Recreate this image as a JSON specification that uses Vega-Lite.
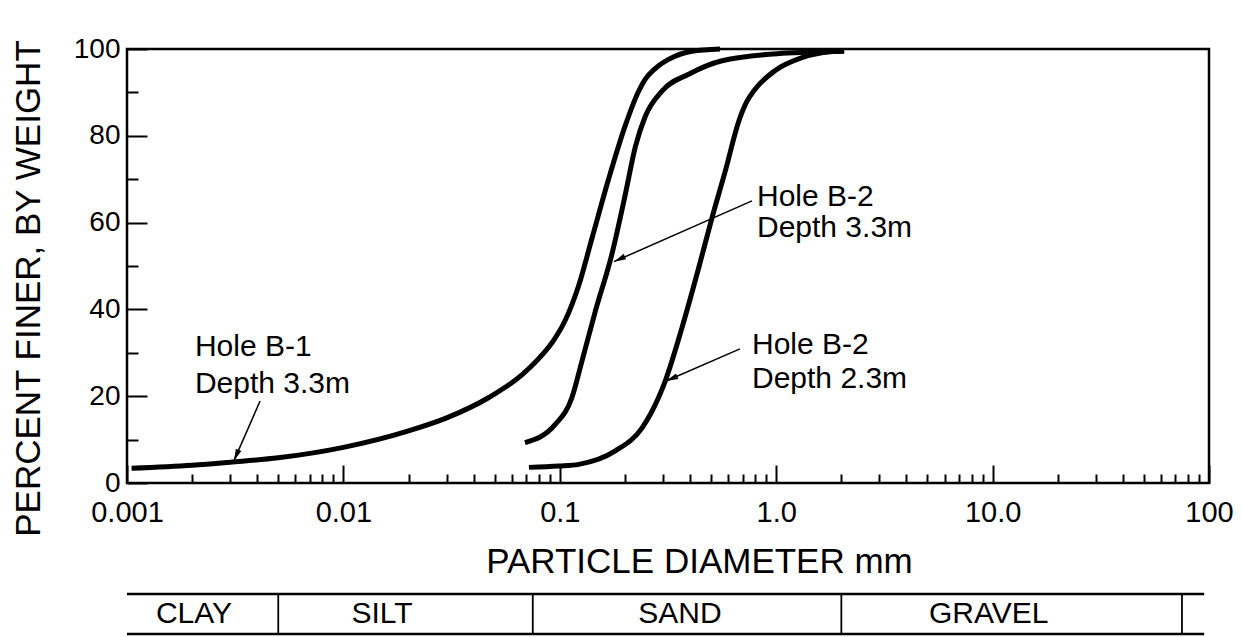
{
  "$schema": "https://vega.github.io/schema/vega-lite/v6.json",
  "padding": {"left": 9, "top": 33, "right": 5, "bottom": 0},
  "background": "white",
  "config": {
    "font": "Liberation Sans",
    "view": {"stroke": null},
    "axis": {"domain": false, "grid": false, "tickColor": "black", "tickWidth": 2, "labelColor": "black", "titleColor": "black", "labelFont": "Liberation Sans", "titleFont": "Liberation Sans", "titleFontWeight": "normal"}
  },
  "datasets": {
    "curves": [
      {"sample": "B-1 3.3m", "d": 0.00105, "p": 3.4},
      {"sample": "B-1 3.3m", "d": 0.002, "p": 4.1},
      {"sample": "B-1 3.3m", "d": 0.003, "p": 4.8},
      {"sample": "B-1 3.3m", "d": 0.005, "p": 5.8},
      {"sample": "B-1 3.3m", "d": 0.01, "p": 8.2},
      {"sample": "B-1 3.3m", "d": 0.02, "p": 12},
      {"sample": "B-1 3.3m", "d": 0.03, "p": 15},
      {"sample": "B-1 3.3m", "d": 0.047, "p": 19.7},
      {"sample": "B-1 3.3m", "d": 0.0668, "p": 24.9},
      {"sample": "B-1 3.3m", "d": 0.0828, "p": 29.5},
      {"sample": "B-1 3.3m", "d": 0.094, "p": 33},
      {"sample": "B-1 3.3m", "d": 0.106, "p": 37.5},
      {"sample": "B-1 3.3m", "d": 0.1223, "p": 45.5},
      {"sample": "B-1 3.3m", "d": 0.141, "p": 56.5},
      {"sample": "B-1 3.3m", "d": 0.168, "p": 70},
      {"sample": "B-1 3.3m", "d": 0.2008, "p": 82.4},
      {"sample": "B-1 3.3m", "d": 0.231, "p": 90.2},
      {"sample": "B-1 3.3m", "d": 0.248, "p": 93},
      {"sample": "B-1 3.3m", "d": 0.276, "p": 95.5},
      {"sample": "B-1 3.3m", "d": 0.318, "p": 97.6},
      {"sample": "B-1 3.3m", "d": 0.408, "p": 99.5},
      {"sample": "B-1 3.3m", "d": 0.55, "p": 100},
      {"sample": "B-2 3.3m", "d": 0.069, "p": 9.3},
      {"sample": "B-2 3.3m", "d": 0.0953, "p": 13.5},
      {"sample": "B-2 3.3m", "d": 0.1138, "p": 19.7},
      {"sample": "B-2 3.3m", "d": 0.1266, "p": 28.1},
      {"sample": "B-2 3.3m", "d": 0.146, "p": 39.6},
      {"sample": "B-2 3.3m", "d": 0.174, "p": 52.7},
      {"sample": "B-2 3.3m", "d": 0.2008, "p": 66.5},
      {"sample": "B-2 3.3m", "d": 0.2235, "p": 77.5},
      {"sample": "B-2 3.3m", "d": 0.2484, "p": 84.5},
      {"sample": "B-2 3.3m", "d": 0.2965, "p": 90.3},
      {"sample": "B-2 3.3m", "d": 0.394, "p": 94.2},
      {"sample": "B-2 3.3m", "d": 0.562, "p": 97.3},
      {"sample": "B-2 3.3m", "d": 1.064, "p": 99},
      {"sample": "B-2 3.3m", "d": 2.06, "p": 99.5},
      {"sample": "B-2 2.3m", "d": 0.072, "p": 3.6},
      {"sample": "B-2 2.3m", "d": 0.099, "p": 3.9},
      {"sample": "B-2 2.3m", "d": 0.1223, "p": 4.3},
      {"sample": "B-2 2.3m", "d": 0.1805, "p": 7.4},
      {"sample": "B-2 2.3m", "d": 0.24, "p": 12.7},
      {"sample": "B-2 2.3m", "d": 0.286, "p": 19.7},
      {"sample": "B-2 2.3m", "d": 0.307, "p": 23.5},
      {"sample": "B-2 2.3m", "d": 0.367, "p": 35.8},
      {"sample": "B-2 2.3m", "d": 0.4385, "p": 49.6},
      {"sample": "B-2 2.3m", "d": 0.505, "p": 61.1},
      {"sample": "B-2 2.3m", "d": 0.582, "p": 71.9},
      {"sample": "B-2 2.3m", "d": 0.671, "p": 83.3},
      {"sample": "B-2 2.3m", "d": 0.73, "p": 87.8},
      {"sample": "B-2 2.3m", "d": 0.801, "p": 90.8},
      {"sample": "B-2 2.3m", "d": 0.986, "p": 95},
      {"sample": "B-2 2.3m", "d": 1.315, "p": 98},
      {"sample": "B-2 2.3m", "d": 1.81, "p": 99.4},
      {"sample": "B-2 2.3m", "d": 2.06, "p": 99.6}
    ],
    "arrows": [
      {"id": "b1", "x1": 0.00412, "y1": 18.9, "x2": 0.00312, "y2": 5.1},
      {"id": "b23", "x1": 0.773, "y1": 65, "x2": 0.178, "y2": 51},
      {"id": "b22", "x1": 0.68, "y1": 30.9, "x2": 0.31, "y2": 23.5}
    ],
    "notes": [
      {"t": "Hole B-1", "x": 0.00206, "y": 31.3},
      {"t": "Depth 3.3m", "x": 0.00206, "y": 22.8},
      {"t": "Hole B-2", "x": 0.815, "y": 65.9},
      {"t": "Depth 3.3m", "x": 0.815, "y": 58.7},
      {"t": "Hole B-2", "x": 0.773, "y": 31.8},
      {"t": "Depth 2.3m", "x": 0.773, "y": 23.9}
    ],
    "barlines": [
      {"from": 0.001, "to": 95}
    ],
    "bounds": [
      {"bound": 0.005},
      {"bound": 0.075},
      {"bound": 2},
      {"bound": 75}
    ],
    "soils": [
      {"soil": "CLAY", "at": 0.00204},
      {"soil": "SILT", "at": 0.01507},
      {"soil": "SAND", "at": 0.359},
      {"soil": "GRAVEL", "at": 9.6}
    ]
  },
  "spacing": 11,
  "vconcat": [
    {
      "width": 1082,
      "height": 434,
      "view": {"stroke": "black", "strokeWidth": 2.5},
      "layer": [
        {
          "data": {"name": "curves"},
          "mark": {"type": "line", "interpolate": "monotone", "strokeWidth": 5, "color": "black"},
          "encoding": {
            "x": {
              "field": "d", "type": "quantitative",
              "scale": {"type": "log", "domain": [0.001, 100]},
              "axis": {
                "values": [0.001,0.002,0.003,0.004,0.005,0.006,0.007,0.008,0.009,0.01,0.02,0.03,0.04,0.05,0.06,0.07,0.08,0.09,0.1,0.2,0.3,0.4,0.5,0.6,0.7,0.8,0.9,1,2,3,4,5,6,7,8,9,10,20,30,40,50,60,70,80,90,100],
                "labelExpr": "datum.value == 0.001 ? '0.001' : datum.value == 0.01 ? '0.01' : datum.value == 0.1 ? '0.1' : datum.value == 1 ? '1.0' : datum.value == 10 ? '10.0' : datum.value == 100 ? '100' : ''",
                "tickSize": {"condition": {"test": "indexof([0.001,0.01,0.1,1,10,100], datum.value) >= 0", "value": -18}, "value": -9},
                "labelPadding": 33,
                "labelFlush": false,
                "labelOverlap": false,
                "labelFontSize": 29,
                "title": "PARTICLE DIAMETER mm",
                "titleFontSize": 35,
                "titleX": 572,
                "titleY": 78,
                "titleBaseline": "middle"
              }
            },
            "y": {
              "field": "p", "type": "quantitative",
              "scale": {"domain": [0, 100], "nice": false},
              "axis": {
                "values": [0,10,20,30,40,50,60,70,80,90,100],
                "labelExpr": "datum.value % 20 == 0 ? datum.label : ''",
                "tickSize": {"condition": {"test": "datum.value % 20 == 0", "value": -20}, "value": -11},
                "labelPadding": 27,
                "labelOverlap": false,
                "labelFontSize": 28,
                "title": "PERCENT FINER, BY WEIGHT",
                "titleFontSize": 35,
                "titleX": -99,
                "titleY": 239,
                "titleAngle": -90,
                "titleBaseline": "middle"
              }
            },
            "detail": {"field": "sample"}
          }
        },
        {
          "data": {"name": "arrows"},
          "mark": {"type": "rule", "strokeWidth": 1.5, "color": "black"},
          "encoding": {
            "x": {"field": "x1", "type": "quantitative"},
            "x2": {"field": "x2"},
            "y": {"field": "y1", "type": "quantitative"},
            "y2": {"field": "y2"}
          }
        },
        {
          "data": {"name": "arrows"},
          "transform": [{"filter": "datum.id == 'b1'"}],
          "mark": {"type": "point", "shape": "M0,0L0.5,2L-0.5,2Z", "filled": true, "size": 144, "angle": 203, "color": "black", "opacity": 1, "strokeWidth": 0},
          "encoding": {
            "x": {"field": "x2", "type": "quantitative"},
            "y": {"field": "y2", "type": "quantitative"}
          }
        },
        {
          "data": {"name": "arrows"},
          "transform": [{"filter": "datum.id == 'b23'"}],
          "mark": {"type": "point", "shape": "M0,0L0.5,2L-0.5,2Z", "filled": true, "size": 144, "angle": 245, "color": "black", "opacity": 1, "strokeWidth": 0},
          "encoding": {
            "x": {"field": "x2", "type": "quantitative"},
            "y": {"field": "y2", "type": "quantitative"}
          }
        },
        {
          "data": {"name": "arrows"},
          "transform": [{"filter": "datum.id == 'b22'"}],
          "mark": {"type": "point", "shape": "M0,0L0.5,2L-0.5,2Z", "filled": true, "size": 144, "angle": 247, "color": "black", "opacity": 1, "strokeWidth": 0},
          "encoding": {
            "x": {"field": "x2", "type": "quantitative"},
            "y": {"field": "y2", "type": "quantitative"}
          }
        },
        {
          "data": {"name": "notes"},
          "mark": {"type": "text", "align": "left", "baseline": "middle", "fontSize": 30, "color": "black"},
          "encoding": {
            "x": {"field": "x", "type": "quantitative"},
            "y": {"field": "y", "type": "quantitative"},
            "text": {"field": "t"}
          }
        }
      ]
    },
    {
      "width": 1082,
      "height": 40,
      "layer": [
        {
          "data": {"name": "barlines"},
          "mark": {"type": "rule", "strokeWidth": 2.5, "color": "black"},
          "encoding": {
            "x": {"field": "from", "type": "quantitative", "scale": {"type": "log", "domain": [0.001, 100]}, "axis": null},
            "x2": {"field": "to"},
            "y": {"datum": 1, "type": "quantitative", "scale": {"domain": [0, 1], "nice": false}, "axis": null}
          }
        },
        {
          "data": {"name": "barlines"},
          "mark": {"type": "rule", "strokeWidth": 2.5, "color": "black"},
          "encoding": {
            "x": {"field": "from", "type": "quantitative"},
            "x2": {"field": "to"},
            "y": {"datum": 0, "type": "quantitative"}
          }
        },
        {
          "data": {"name": "bounds"},
          "mark": {"type": "rule", "strokeWidth": 1.8, "color": "black"},
          "encoding": {
            "x": {"field": "bound", "type": "quantitative"},
            "y": {"datum": 0, "type": "quantitative"},
            "y2": {"datum": 1}
          }
        },
        {
          "data": {"name": "soils"},
          "mark": {"type": "text", "align": "center", "baseline": "middle", "fontSize": 30, "color": "black"},
          "encoding": {
            "x": {"field": "at", "type": "quantitative"},
            "y": {"datum": 0.5, "type": "quantitative"},
            "text": {"field": "soil"}
          }
        }
      ]
    }
  ]
}
